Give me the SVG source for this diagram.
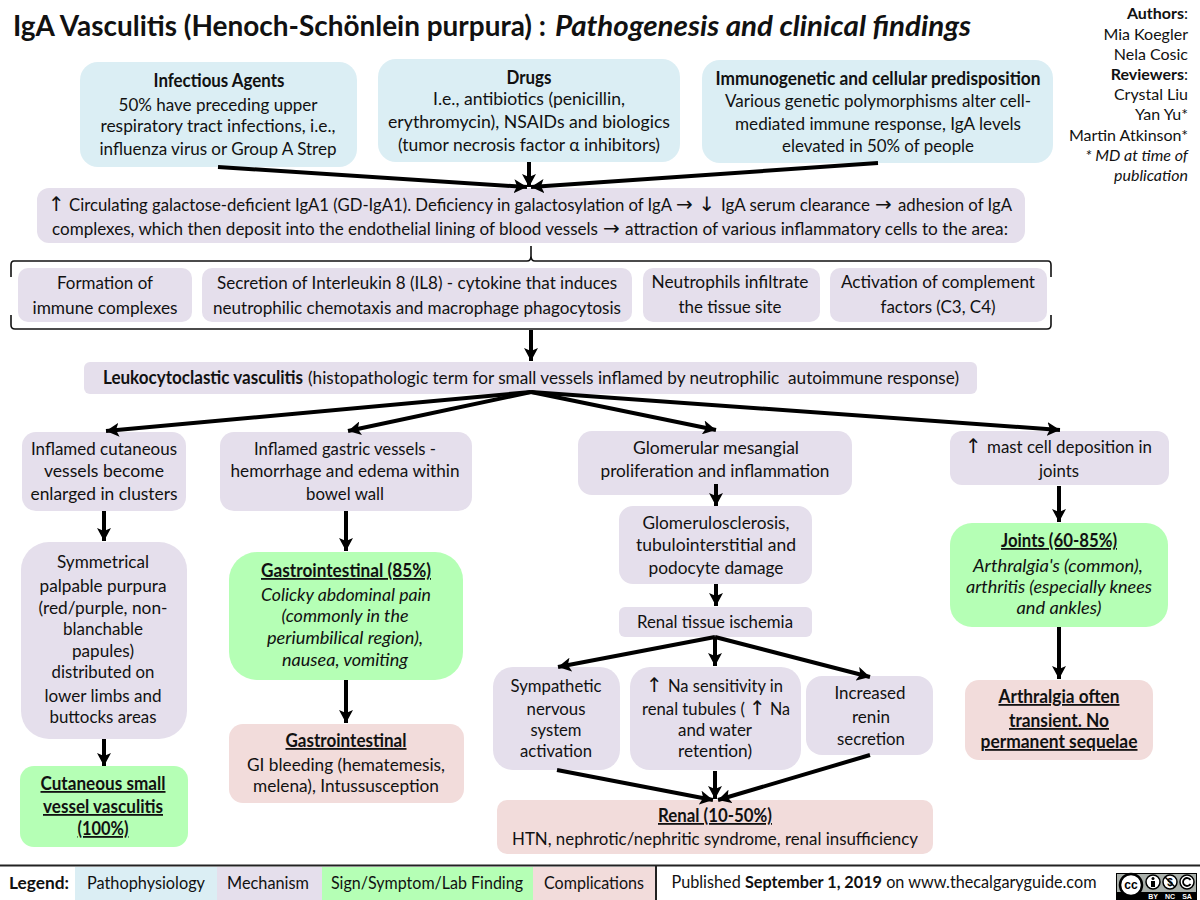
<svg xmlns="http://www.w3.org/2000/svg" width="1200" height="900" viewBox="0 0 1200 900">
<defs>
<marker id="ah" markerUnits="userSpaceOnUse" markerWidth="16" markerHeight="14" refX="13" refY="7" orient="auto"><path d="M0 0L13 7L0 14L3 7Z" fill="#000"/></marker>
</defs>
<style>
text{font-family:"Lato","Noto Sans","DejaVu Sans",sans-serif;font-size:18px;fill:#111;text-anchor:middle;white-space:pre}
.b{font-weight:700}.u{font-weight:700;text-decoration:underline}.i{font-style:italic}
.a{font-family:"DejaVu Sans",sans-serif;font-size:20px;text-anchor:start}
.path{fill:#dbeef4}.mech{fill:#e5dfec}.sign{fill:#b5ffb5}.comp{fill:#f2dcdb}
.c{fill:none;stroke:#000;stroke-width:4;marker-end:url(#ah)}
.l{text-anchor:start}.r{text-anchor:end;font-size:16px}
.s{font-size:17.400px}
.leg{font-size:17.500px}
.t{font-size:28px;font-weight:700;text-anchor:start}
.cc{font-family:"Liberation Sans",sans-serif;font-weight:700;fill:#000}
.ccs{font-family:"Liberation Sans",sans-serif;font-weight:700;font-size:7px;fill:#fff}
</style>
<rect width="1200" height="900" fill="#fff"/>
<g id="title">
<text class="t" x="13" y="36" textLength="533" lengthAdjust="spacingAndGlyphs">IgA Vasculitis (Henoch-Schönlein purpura) :</text>
<text class="t i" x="555" y="36" textLength="416" lengthAdjust="spacingAndGlyphs">Pathogenesis and clinical findings</text></g>
<g id="authors">
<text class="r b" x="1188" y="19">Authors<tspan style="font-weight:400">:</tspan></text>
<text class="r" x="1188" y="40">Mia Koegler</text>
<text class="r" x="1188" y="60">Nela Cosic</text>
<text class="r b" x="1188" y="80">Reviewers<tspan style="font-weight:400">:</tspan></text>
<text class="r" x="1188" y="100">Crystal Liu</text>
<text class="r" x="1188" y="120">Yan Yu*</text>
<text class="r" x="1188" y="141">Martin Atkinson*</text>
<text class="r i" x="1188" y="161">* MD at time of</text>
<text class="r i" x="1188" y="181">publication</text>
</g>
<g id="n-infectious"><rect class="path" x="80" y="62" width="277" height="105" rx="18"/>
<text class="b" x="219" y="87" textLength="131" lengthAdjust="spacingAndGlyphs">Infectious Agents</text>
<text x="218" y="111" textLength="199" lengthAdjust="spacingAndGlyphs">50% have preceding upper</text>
<text x="218" y="132" textLength="235" lengthAdjust="spacingAndGlyphs">respiratory tract infections, i.e.,</text>
<text x="218" y="155" textLength="237" lengthAdjust="spacingAndGlyphs">influenza virus or Group A Strep</text></g>
<g id="n-drugs"><rect class="path" x="378" y="59" width="302" height="103" rx="18"/>
<text class="b" x="529" y="84" textLength="45" lengthAdjust="spacingAndGlyphs">Drugs</text>
<text x="529" y="105" textLength="192" lengthAdjust="spacingAndGlyphs">I.e., antibiotics (penicillin,</text>
<text x="529" y="128" textLength="282" lengthAdjust="spacingAndGlyphs">erythromycin), NSAIDs and biologics</text>
<text x="529" y="151" textLength="262" lengthAdjust="spacingAndGlyphs">(tumor necrosis factor α inhibitors)</text></g>
<g id="n-immuno"><rect class="path" x="702" y="60" width="351" height="103" rx="18"/>
<text class="b" x="878" y="85" textLength="325" lengthAdjust="spacingAndGlyphs">Immunogenetic and cellular predisposition</text>
<text x="878" y="107" textLength="306" lengthAdjust="spacingAndGlyphs">Various genetic polymorphisms alter cell-</text>
<text x="878" y="130" textLength="286" lengthAdjust="spacingAndGlyphs">mediated immune response, IgA levels</text>
<text x="878" y="152" textLength="192" lengthAdjust="spacingAndGlyphs">elevated in 50% of people</text></g>
<g id="n-circulating"><rect class="mech" x="37" y="188" width="988" height="55" rx="12"/>
<text class="a" x="48" y="211">↑</text>
<text class="l s" x="69" y="211" textLength="603" lengthAdjust="spacingAndGlyphs">Circulating galactose-deficient IgA1 (GD-IgA1). Deficiency in galactosylation of IgA</text>
<text class="a" x="676" y="211">→</text>
<text class="a" x="698.500" y="211">↓</text>
<text class="l s" x="721" y="211" textLength="149" lengthAdjust="spacingAndGlyphs">IgA serum clearance</text>
<text class="a" x="875" y="211">→</text>
<text class="l s" x="898" y="211" textLength="114" lengthAdjust="spacingAndGlyphs">adhesion of IgA</text>
<text class="l s" x="52" y="235" textLength="546" lengthAdjust="spacingAndGlyphs">complexes, which then deposit into the endothelial lining of blood vessels</text>
<text class="a" x="603" y="235">→</text>
<text class="l s" x="625" y="235" textLength="383" lengthAdjust="spacingAndGlyphs">attraction of various inflammatory cells to the area:</text></g>
<g id="n-formation"><rect class="mech" x="18" y="268" width="174" height="54" rx="10"/>
<text x="105" y="289" textLength="96" lengthAdjust="spacingAndGlyphs">Formation of</text>
<text x="105" y="314" textLength="145" lengthAdjust="spacingAndGlyphs">immune complexes</text></g>
<g id="n-secretion"><rect class="mech" x="202" y="268" width="430" height="54" rx="10"/>
<text x="417" y="289" textLength="400" lengthAdjust="spacingAndGlyphs">Secretion of Interleukin 8 (IL8) - cytokine that induces</text>
<text x="417" y="314" textLength="408" lengthAdjust="spacingAndGlyphs">neutrophilic chemotaxis and macrophage phagocytosis</text></g>
<g id="n-neutrophils"><rect class="mech" x="643" y="268" width="177" height="54" rx="10"/>
<text x="730" y="288" textLength="157" lengthAdjust="spacingAndGlyphs">Neutrophils infiltrate</text>
<text x="730" y="313" textLength="103" lengthAdjust="spacingAndGlyphs">the tissue site</text></g>
<g id="n-activation"><rect class="mech" x="830" y="268" width="217" height="54" rx="10"/>
<text x="938" y="288" textLength="194" lengthAdjust="spacingAndGlyphs">Activation of complement</text>
<text x="938" y="313" textLength="115" lengthAdjust="spacingAndGlyphs">factors (C3, C4)</text></g>
<g id="n-leuko"><rect class="mech" x="84" y="362" width="893" height="32" rx="6"/>
<text class="b l" x="103" y="384" textLength="200" lengthAdjust="spacingAndGlyphs">Leukocytoclastic vasculitis</text>
<text class="l" x="308" y="384" textLength="651" lengthAdjust="spacingAndGlyphs">(histopathologic term for small vessels inflamed by neutrophilic  autoimmune response)</text></g>
<g id="n-cutaneous"><rect class="mech" x="22" y="432" width="164" height="79" rx="14"/>
<text x="104" y="455" textLength="146" lengthAdjust="spacingAndGlyphs">Inflamed cutaneous</text>
<text x="104" y="477" textLength="120" lengthAdjust="spacingAndGlyphs">vessels become</text>
<text x="104" y="500" textLength="147" lengthAdjust="spacingAndGlyphs">enlarged in clusters</text></g>
<g id="n-gastric"><rect class="mech" x="220" y="432" width="252" height="79" rx="14"/>
<text x="345" y="455" textLength="182" lengthAdjust="spacingAndGlyphs">Inflamed gastric vessels -</text>
<text x="345" y="477" textLength="229" lengthAdjust="spacingAndGlyphs">hemorrhage and edema within</text>
<text x="345" y="500" textLength="78" lengthAdjust="spacingAndGlyphs">bowel wall</text></g>
<g id="n-glomerular"><rect class="mech" x="578" y="431" width="274" height="64" rx="14"/>
<text x="716" y="454" textLength="166" lengthAdjust="spacingAndGlyphs">Glomerular mesangial</text>
<text x="715" y="477" textLength="229" lengthAdjust="spacingAndGlyphs">proliferation and inflammation</text></g>
<g id="n-mast"><rect class="mech" x="950" y="431" width="219" height="54" rx="12"/>
<text class="a" x="965" y="453">↑</text>
<text class="l" x="987" y="453" textLength="165" lengthAdjust="spacingAndGlyphs">mast cell deposition in</text>
<text x="1059" y="477" textLength="40" lengthAdjust="spacingAndGlyphs">joints</text></g>
<g id="n-glomerulo"><rect class="mech" x="619" y="506" width="193" height="78" rx="14"/>
<text x="716" y="529" textLength="147" lengthAdjust="spacingAndGlyphs">Glomerulosclerosis,</text>
<text x="716" y="551" textLength="160" lengthAdjust="spacingAndGlyphs">tubulointerstitial and</text>
<text x="716" y="574" textLength="135" lengthAdjust="spacingAndGlyphs">podocyte damage</text></g>
<g id="n-ischemia"><rect class="mech" x="619" y="607" width="193" height="30" rx="6"/>
<text x="715" y="628" textLength="156" lengthAdjust="spacingAndGlyphs">Renal tissue ischemia</text></g>
<g id="n-purpura"><rect class="mech" x="21" y="542" width="166" height="197" rx="28"/>
<text x="103" y="568" textLength="92" lengthAdjust="spacingAndGlyphs">Symmetrical</text>
<text x="103" y="592" textLength="127" lengthAdjust="spacingAndGlyphs">palpable purpura</text>
<text x="103" y="614" textLength="129" lengthAdjust="spacingAndGlyphs">(red/purple, non-</text>
<text x="103" y="635" textLength="80" lengthAdjust="spacingAndGlyphs">blanchable</text>
<text x="103" y="657" textLength="62" lengthAdjust="spacingAndGlyphs">papules)</text>
<text x="103" y="678" textLength="103" lengthAdjust="spacingAndGlyphs">distributed on</text>
<text x="103" y="702" textLength="117" lengthAdjust="spacingAndGlyphs">lower limbs and</text>
<text x="103" y="723" textLength="107" lengthAdjust="spacingAndGlyphs">buttocks areas</text></g>
<g id="n-cutvasc"><rect class="sign" x="20" y="766" width="168" height="81" rx="14"/>
<text class="u" x="103" y="790" textLength="125" lengthAdjust="spacingAndGlyphs">Cutaneous small</text>
<text class="u" x="103" y="813" textLength="120" lengthAdjust="spacingAndGlyphs">vessel vasculitis</text>
<text class="u" x="103" y="835" textLength="51" lengthAdjust="spacingAndGlyphs">(100%)</text></g>
<g id="n-gi"><rect class="sign" x="229" y="552" width="234" height="128" rx="28"/>
<text class="u" x="346" y="577" textLength="170" lengthAdjust="spacingAndGlyphs">Gastrointestinal (85%)</text>
<text class="i" x="346" y="601" textLength="170" lengthAdjust="spacingAndGlyphs">Colicky abdominal pain</text>
<text class="i" x="345" y="622" textLength="127" lengthAdjust="spacingAndGlyphs">(commonly in the</text>
<text class="i" x="345" y="644" textLength="156" lengthAdjust="spacingAndGlyphs">periumbilical region),</text>
<text class="i" x="345" y="666" textLength="126" lengthAdjust="spacingAndGlyphs">nausea, vomiting</text></g>
<g id="n-gicomp"><rect class="comp" x="229" y="724" width="235" height="79" rx="14"/>
<text class="u" x="346" y="747" textLength="121" lengthAdjust="spacingAndGlyphs">Gastrointestinal</text>
<text x="346" y="771" textLength="198" lengthAdjust="spacingAndGlyphs">GI bleeding (hematemesis,</text>
<text x="346" y="792" textLength="186" lengthAdjust="spacingAndGlyphs">melena), Intussusception</text></g>
<g id="n-joints"><rect class="sign" x="950" y="523" width="218" height="104" rx="22"/>
<text class="u" x="1059" y="547" textLength="116" lengthAdjust="spacingAndGlyphs">Joints (60-85%)</text>
<text class="i" x="1058" y="572" textLength="170" lengthAdjust="spacingAndGlyphs">Arthralgia's (common),</text>
<text class="i" x="1059" y="593" textLength="186" lengthAdjust="spacingAndGlyphs">arthritis (especially knees</text>
<text class="i" x="1059" y="614" textLength="85" lengthAdjust="spacingAndGlyphs">and ankles)</text></g>
<g id="n-arthralgia"><rect class="comp" x="965" y="680" width="188" height="80" rx="14"/>
<text class="u" x="1059" y="703" textLength="121" lengthAdjust="spacingAndGlyphs">Arthralgia often</text>
<text class="u" x="1059" y="727" textLength="100" lengthAdjust="spacingAndGlyphs">transient. No</text>
<text class="u" x="1059" y="748" textLength="157" lengthAdjust="spacingAndGlyphs">permanent sequelae</text></g>
<g id="n-sympathetic"><rect class="mech" x="493" y="667" width="127" height="103" rx="20"/>
<text x="556" y="692" textLength="91" lengthAdjust="spacingAndGlyphs">Sympathetic</text>
<text x="556" y="715" textLength="59" lengthAdjust="spacingAndGlyphs">nervous</text>
<text x="556" y="736" textLength="51" lengthAdjust="spacingAndGlyphs">system</text>
<text x="556" y="757" textLength="72" lengthAdjust="spacingAndGlyphs">activation</text></g>
<g id="n-na"><rect class="mech" x="630" y="667" width="171" height="103" rx="20"/>
<text class="a" x="646" y="692">↑</text>
<text class="l" x="668" y="692" textLength="115" lengthAdjust="spacingAndGlyphs">Na sensitivity in</text>
<text class="l" x="642" y="715" textLength="103" lengthAdjust="spacingAndGlyphs">renal tubules (</text>
<text class="a" x="749" y="715">↑</text>
<text class="l" x="770" y="715" textLength="20" lengthAdjust="spacingAndGlyphs">Na</text>
<text x="715" y="736" textLength="74" lengthAdjust="spacingAndGlyphs">and water</text>
<text x="715" y="757" textLength="74" lengthAdjust="spacingAndGlyphs">retention)</text></g>
<g id="n-renin"><rect class="mech" x="806" y="676" width="127" height="79" rx="16"/>
<text x="870" y="699" textLength="71" lengthAdjust="spacingAndGlyphs">Increased</text>
<text x="871" y="723" textLength="38" lengthAdjust="spacingAndGlyphs">renin</text>
<text x="871" y="745" textLength="68" lengthAdjust="spacingAndGlyphs">secretion</text></g>
<g id="n-renal"><rect class="comp" x="497" y="800" width="436" height="54" rx="10"/>
<text class="u" x="715" y="822" textLength="114" lengthAdjust="spacingAndGlyphs">Renal (10-50%)</text>
<text x="715" y="845" textLength="406" lengthAdjust="spacingAndGlyphs">HTN, nephrotic/nephritic syndrome, renal insufficiency</text></g>
<g id="connectors">
<path class="c" d="M218 167L527 187"/>
<path class="c" d="M529 162L529 187"/>
<path class="c" d="M878 163L531 187"/>
<path d="M531 246V256Q531 261 527 261H14Q11 261 11 265V277M531 256Q531 261 535 261H1048Q1051 261 1051 265V277M11 315V325Q11 329 15 329H1047Q1051 329 1051 325V315" fill="none" stroke="#111" stroke-width="1.600"/>
<path class="c" d="M531 330L531 361"/>
<path class="c" d="M531 392L106 431"/>
<path class="c" d="M531 392L348 431"/>
<path class="c" d="M531 392L716 430"/>
<path class="c" d="M531 392L1060 430"/>
<path class="c" d="M104 511L104 541"/>
<path class="c" d="M104 739L104 766"/>
<path class="c" d="M346 511L346 551"/>
<path class="c" d="M346 680L346 723"/>
<path class="c" d="M716 484L716 506"/>
<path class="c" d="M716 584L716 606"/>
<path class="c" d="M1059 486L1059 522"/>
<path class="c" d="M1059 627L1059 679"/>
<path class="c" d="M715 637L558 667"/>
<path class="c" d="M715 637L715 666"/>
<path class="c" d="M715 637L870 677"/>
<path class="c" d="M557 770L713 800"/>
<path class="c" d="M715 771L715 799"/>
<path class="c" d="M870 755L718 800"/>
</g>
<g id="legend">
<rect class="path" x="75" y="867" width="142" height="33"/><rect class="mech" x="217" y="867" width="105" height="33"/><rect class="sign" x="322" y="867" width="211" height="33"/><rect class="comp" x="533" y="867" width="122" height="33"/>
<path d="M0 865.500H1200" stroke="#222" stroke-width="2"/><path d="M656 866V900" stroke="#222" stroke-width="2"/>
<text class="b leg" x="39" y="889" textLength="60" lengthAdjust="spacingAndGlyphs">Legend:</text>
<text class="leg" x="146" y="889" textLength="118" lengthAdjust="spacingAndGlyphs">Pathophysiology</text>
<text class="leg" x="268" y="889" textLength="82" lengthAdjust="spacingAndGlyphs">Mechanism</text>
<text class="leg" x="427" y="889" textLength="192" lengthAdjust="spacingAndGlyphs">Sign/Symptom/Lab Finding</text>
<text class="leg" x="594" y="889" textLength="100" lengthAdjust="spacingAndGlyphs">Complications</text>
<text class="leg" x="884" y="888" textLength="425" lengthAdjust="spacingAndGlyphs">Published <tspan class="b">September 1, 2019</tspan> on www.thecalgaryguide.com</text>
</g>
<g id="cc-badge">
<rect x="1116" y="873" width="81" height="27" fill="#aab0ab"/><rect x="1116" y="892" width="81" height="8" fill="#000"/>
<rect x="1116.500" y="873.500" width="80" height="26" fill="none" stroke="#000"/>
<circle cx="1131" cy="885" r="11" fill="#fff" stroke="#000" stroke-width="2.500"/>
<text class="cc" x="1131" y="889" style="font-size:12px">cc</text>
<circle cx="1153" cy="882" r="7" fill="#fff" stroke="#000" stroke-width="1.500"/>
<circle cx="1153" cy="878.500" r="1.500"/><rect x="1151" y="881" width="4" height="6"/>
<circle cx="1170" cy="882" r="7" fill="#fff" stroke="#000" stroke-width="1.500"/>
<text class="cc" x="1170" y="886" style="font-size:10px">$</text><path d="M1165 877L1175 887" stroke="#000" stroke-width="1.500"/>
<circle cx="1187" cy="882" r="7" fill="#fff" stroke="#000" stroke-width="1.500"/>
<path d="M1190.500 880A4 4 0 1 0 1190.500 884" fill="none" stroke="#000" stroke-width="1.800"/>
<text class="ccs" x="1153" y="899">BY</text><text class="ccs" x="1170" y="899">NC</text><text class="ccs" x="1187" y="899">SA</text>
</g>
</svg>
